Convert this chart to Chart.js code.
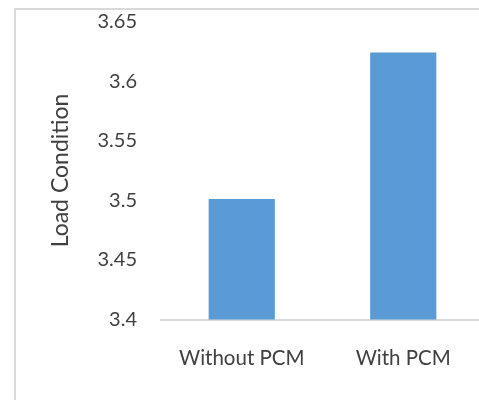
<!DOCTYPE html>
<html>
<head>
<meta charset="utf-8">
<script src="https://cdn.jsdelivr.net/npm/chart.js@4"></script>
<style>
  html, body { margin: 0; padding: 0; background: #fff; overflow: hidden; width: 479px; height: 400px; }
  #frame { position: absolute; left: 14px; top: 8px; width: 480px; height: 400px;
           border-top: 2px solid #d9d9d9; border-left: 2px solid #d9d9d9; }
  #wrap { position: absolute; left: 0; top: 0; width: 500px; height: 400px; }
</style>
</head>
<body>
<div id="frame"></div>
<div id="wrap"><canvas id="c" width="500" height="400"></canvas></div>
<script>
const categories = ["Without PCM", "With PCM"];
const loadCondition = [3.501, 3.624];
const yTicks = [3.4, 3.45, 3.5, 3.55, 3.6, 3.65];
const yTitle = "Load Condition";

const FONT = "Lato, 'Open Sans', sans-serif";
new Chart(document.getElementById('c'), {
  type: 'bar',
  data: {
    labels: categories,
    datasets: [{
      data: loadCondition,
      backgroundColor: '#5b9bd5',
      borderWidth: 0,
      barPercentage: 0.41,
      categoryPercentage: 1.0
    }]
  },
  options: {
    responsive: false,
    animation: false,
    layout: { padding: { top: 21.5, right: 16, bottom: 0, left: 0 } },
    plugins: { legend: { display: false }, tooltip: { enabled: false } },
    scales: {
      x: {
        grid: { display: false, drawTicks: false },
        border: { display: true, color: '#d9d9d9', width: 2 },
        ticks: { color: '#404040', font: { family: FONT, size: 20.5 }, padding: 27 },
        afterFit(s) { s.height = 80.5; s.paddingLeft = 0; s.paddingRight = 0; }
      },
      y: {
        min: yTicks[0],
        max: yTicks[yTicks.length - 1],
        afterBuildTicks(s) { s.ticks = yTicks.map(v => ({ value: v })); },
        grid: { display: false, drawTicks: false },
        border: { display: false },
        ticks: { color: '#404040', font: { family: FONT, size: 20 }, padding: 24,
                 callback: v => String(+v.toFixed(2)) },
        title: { display: true, text: yTitle, color: '#404040',
                 font: { family: FONT, size: 23 }, padding: { top: 47, bottom: 0 } },
        afterFit(s) { s.width = 161; s.paddingTop = 0; s.paddingBottom = 0; }
      }
    }
  }
});
</script>
</body>
</html>
